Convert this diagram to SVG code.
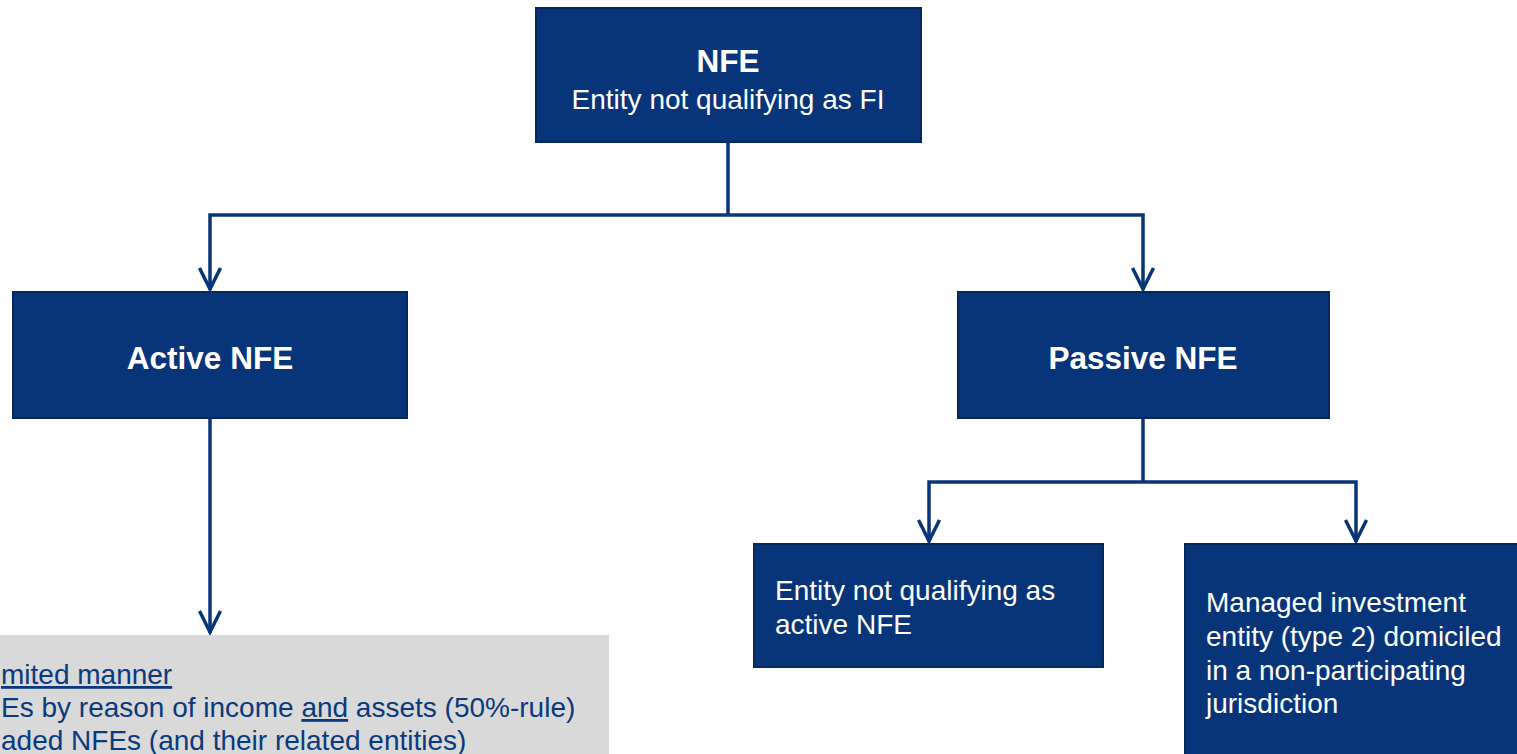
<svg xmlns="http://www.w3.org/2000/svg" width="1517" height="754" viewBox="0 0 1517 754">
<style>
.box{fill:#08357a;stroke:#05285e;stroke-width:2}
.t{font-family:"Liberation Sans",Arial,sans-serif;fill:#fff;font-size:28px}
.b{font-weight:bold;font-size:31.5px}
.g{font-family:"Liberation Sans",Arial,sans-serif;fill:#0a3a7d;font-size:28px}
.u{text-decoration:underline}
.c{fill:none;stroke:#08357a;stroke-width:3.5}
</style>
<defs>
<marker id="arr" markerUnits="userSpaceOnUse" markerWidth="34" markerHeight="34" viewBox="-27 -17 34 34" refX="0" refY="0" orient="auto" overflow="visible">
<path d="M-22,-10.5 L-1,0 L-22,10.5" fill="none" stroke="#08357a" stroke-width="3.5"/>
</marker>
</defs>
<rect x="0" y="0" width="1517" height="754" fill="#fff"/>
<g id="connectors">
<path class="c" d="M728,142 V215"/>
<path class="c" d="M728,215 H210 V290" marker-end="url(#arr)"/>
<path class="c" d="M728,215 H1143 V290" marker-end="url(#arr)"/>
<path class="c" d="M210,418 V633" marker-end="url(#arr)"/>
<path class="c" d="M1143,418 V482"/>
<path class="c" d="M1143,482 H929 V542" marker-end="url(#arr)"/>
<path class="c" d="M1143,482 H1356 V542" marker-end="url(#arr)"/>
</g>
<g id="nfe">
<rect class="box" x="536" y="8" width="385" height="134"/>
<text class="t b" x="728" y="72" text-anchor="middle">NFE</text>
<text class="t" x="728" y="109" text-anchor="middle">Entity not qualifying as FI</text>
</g>
<g id="active">
<rect class="box" x="13" y="292" width="394" height="126"/>
<text class="t b" x="210" y="369" text-anchor="middle">Active NFE</text>
</g>
<g id="passive">
<rect class="box" x="958" y="292" width="371" height="126"/>
<text class="t b" x="1143" y="369" text-anchor="middle">Passive NFE</text>
</g>
<g id="notactive">
<rect class="box" x="754" y="544" width="349" height="123"/>
<text class="t" x="775" y="600">Entity not qualifying as</text>
<text class="t" x="775" y="634">active NFE</text>
</g>
<g id="managed">
<rect class="box" x="1185" y="544" width="340" height="220"/>
<text class="t" x="1206" y="612">Managed investment</text>
<text class="t" x="1206" y="646">entity (type 2) domiciled</text>
<text class="t" x="1206" y="680">in a non-participating</text>
<text class="t" x="1206" y="713">jurisdiction</text>
</g>
<g id="activelist">
<rect x="0" y="635" width="609" height="125" fill="#d9d9d9"/>
<text class="g" x="1" y="684"><tspan class="u">mited manner</tspan></text>
<text class="g" x="1" y="717">Es by reason of income <tspan class="u">and</tspan> assets (50%-rule)</text>
<text class="g" x="1" y="750">aded NFEs (and their related entities)</text>
</g>
</svg>
